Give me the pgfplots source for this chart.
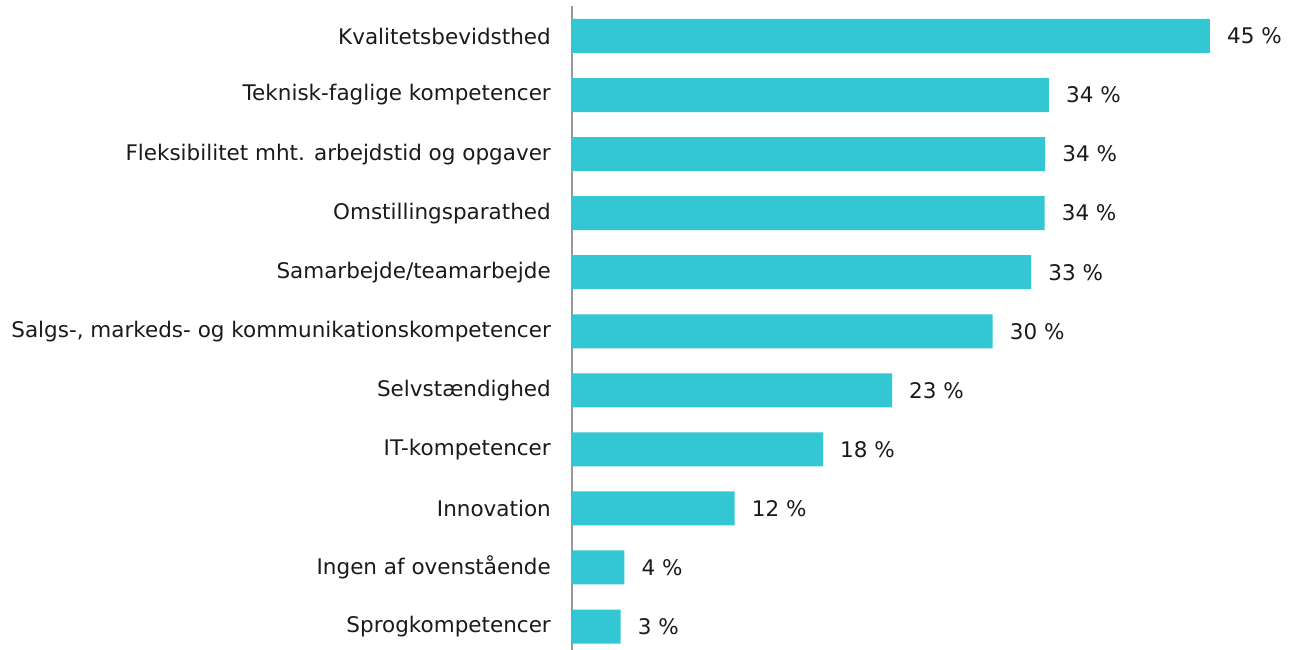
\documentclass[border=0pt]{standalone}
\usepackage{pgfplots}
\pgfplotsset{compat=1.18}
\usepackage{pgfplotstable}
\usepackage{fontspec}
\setmainfont{DejaVu Sans}
\definecolor{barc}{HTML}{33C6D3}
\definecolor{txt}{HTML}{1A1A1A}
\definecolor{axc}{HTML}{999999}
\pgfplotstableread{
x y lab
45.57 0 45
34.07 1 34
33.80 2 34
33.76 3 34
32.80 4 33
30.05 5 30
22.86 6 23
17.93 7 18
11.62 8 12
3.74 9 4
3.48 10 3
}\data
\begin{document}
\begin{tikzpicture}
\begin{axis}[
  x=14pt, y=59.05pt, y dir=reverse,
  xmin=0, xmax=50, ymin=-0.508, ymax=10.4,
  axis x line=none,
  axis y line*=left,
  y axis line style={draw=axc, line width=1.2pt, -},
  xbar, bar width=34pt, bar shift=0pt,
  ytick={0,...,10},
  yticklabels={Kvalitetsbevidsthed,Teknisk-faglige kompetencer,Fleksibilitet mht. arbejdstid og opgaver,Omstillingsparathed,Samarbejde/teamarbejde,{Salgs-, markeds- og kommunikationskompetencer},Selvstændighed,IT-kompetencer,Innovation,Ingen af ovenstående,Sprogkompetencer},
  major tick length=0pt,
  y tick label style={font=\fontsize{21.5}{26}\selectfont, text=txt, inner sep=0pt, xshift=-21pt, anchor=east},
  point meta=explicit symbolic,
  nodes near coords={\pgfplotspointmeta~\%},
  every node near coord/.append style={font=\fontsize{21.5}{26}\selectfont, text=txt, anchor=west, inner sep=0pt, xshift=17pt},
  clip=false,
]
\addplot[fill=barc, draw=none] table[x=x, y=y, meta=lab] {\data};
\coordinate (o) at (axis cs:0,0);
\end{axis}
\pgfresetboundingbox
\path (o) ++(-572pt,36pt) rectangle ++(1294pt,-650pt);
\end{tikzpicture}
\end{document}
